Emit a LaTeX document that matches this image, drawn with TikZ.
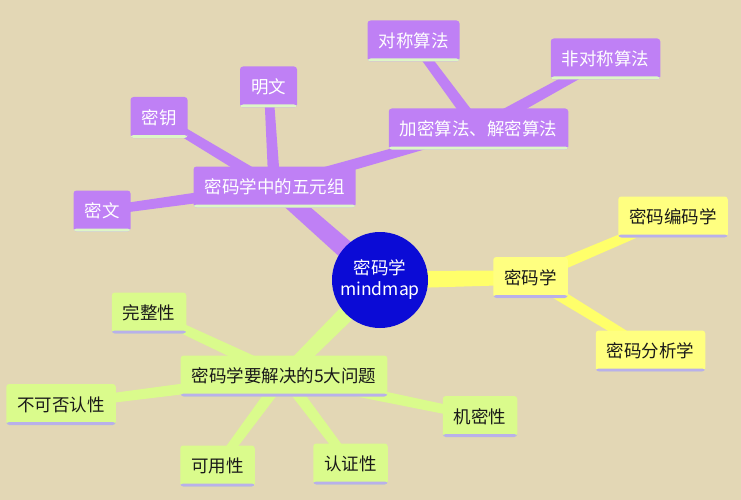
\documentclass[tikz,border=0pt]{standalone}
\usepackage{fontspec}
\usepackage{tikz}
\usetikzlibrary{calc, backgrounds}
\setmainfont{Noto Sans CJK SC}
\definecolor{sandbg}{HTML}{E3D7B5}
\definecolor{orchidmain}{HTML}{BF80F5}
\definecolor{mintline}{HTML}{DDF6C6}
\definecolor{lemonmain}{HTML}{FFFF80}
\definecolor{lemonbranch}{HTML}{FFFF6A}
\definecolor{limemain}{HTML}{DAFB8C}
\definecolor{lavline}{HTML}{B9B0EA}
\definecolor{coreblue}{HTML}{0B0BD6}

% tapered branch: colour, from, to, half width at start, half width at end
\newcommand{\branch}[5]{%
  \fill[#1] ($(#2)!#4!90:(#3)$) -- ($(#3)!#5!-90:(#2)$) -- ($(#3)!#5!90:(#2)$) -- ($(#2)!#4!-90:(#3)$) -- cycle;}

\begin{document}
\begin{tikzpicture}[x=1pt, y=-1pt,
  topic/.style={rounded corners=3pt, minimum height=41pt, inner xsep=11pt, inner ysep=0pt,
    font=\fontsize{17.5}{17.5}\selectfont},
  purplebox/.style={topic, fill=orchidmain, text=white,
    path picture={\fill[mintline] (path picture bounding box.south west) rectangle ([yshift=3pt]path picture bounding box.south east);}},
  yellowbox/.style={topic, fill=lemonmain, text=black!90,
    path picture={\fill[lavline] (path picture bounding box.south west) rectangle ([yshift=3pt]path picture bounding box.south east);}},
  greenbox/.style={topic, fill=limemain, text=black!90,
    path picture={\fill[lavline] (path picture bounding box.south west) rectangle ([yshift=3pt]path picture bounding box.south east);}}]
  \useasboundingbox (0,0) rectangle (741,500);

  % Centre
  \node[circle, fill=coreblue, minimum size=96pt, inner sep=0pt, text=white, align=center,
    font=\fontsize{17.5}{21}\selectfont] (core) at (380,280) {密码学\\mindmap};

  % Purple branch: 五元组
  \node[purplebox] (tuple) at (274.5,187) {密码学中的五元组};
  \node[purplebox] (algo) at (478.5,129) {加密算法、解密算法};
  \node[purplebox] (sym) at (413.5,41) {对称算法};
  \node[purplebox] (asym) at (605.5,59) {非对称算法};
  \node[purplebox] (key) at (159,117.5) {密钥};
  \node[purplebox] (plain) at (268.5,87) {明文};
  \node[purplebox] (cipher) at (102,211) {密文};

  % Yellow branch
  \node[yellowbox] (crypto) at (530.5,277.5) {密码学};
  \node[yellowbox] (encode) at (673,217) {密码编码学};
  \node[yellowbox] (analyse) at (650.5,351) {密码分析学};

  % Green branch: 5大问题
  \node[greenbox] (issues) at (284,376) {密码学要解决的5大问题};
  \node[greenbox] (integrity) at (149,313) {完整性};
  \node[greenbox] (nonrep) at (61,404.5) {不可否认性};
  \node[greenbox] (avail) at (217.5,466) {可用性};
  \node[greenbox] (auth) at (350.5,464) {认证性};
  \node[greenbox] (conf) at (480,416.5) {机密性};

  \begin{scope}[on background layer]
    \fill[sandbg] (0,0) rectangle (741,500);
    % Branches
    \branch{orchidmain}{core}{tuple}{10pt}{8pt}
    \branch{orchidmain}{tuple}{algo}{6pt}{4.5pt}
    \branch{orchidmain}{tuple}{key}{6pt}{4.5pt}
    \branch{orchidmain}{tuple}{plain}{6pt}{4.5pt}
    \branch{orchidmain}{tuple}{cipher}{6pt}{4.5pt}
    \branch{orchidmain}{algo}{sym}{6pt}{4.5pt}
    \branch{orchidmain}{algo}{asym}{6pt}{4.5pt}
    \branch{lemonbranch}{core}{crypto}{9pt}{7pt}
    \branch{lemonbranch}{crypto}{encode}{6pt}{4.5pt}
    \branch{lemonbranch}{crypto}{analyse}{6pt}{4.5pt}
    \branch{limemain}{core}{issues}{9pt}{7pt}
    \branch{limemain}{issues}{integrity}{6pt}{4.5pt}
    \branch{limemain}{issues}{nonrep}{6pt}{4.5pt}
    \branch{limemain}{issues}{avail}{6pt}{4.5pt}
    \branch{limemain}{issues}{auth}{6pt}{4.5pt}
    \branch{limemain}{issues}{conf}{6pt}{4.5pt}
  \end{scope}
\end{tikzpicture}
\end{document}
